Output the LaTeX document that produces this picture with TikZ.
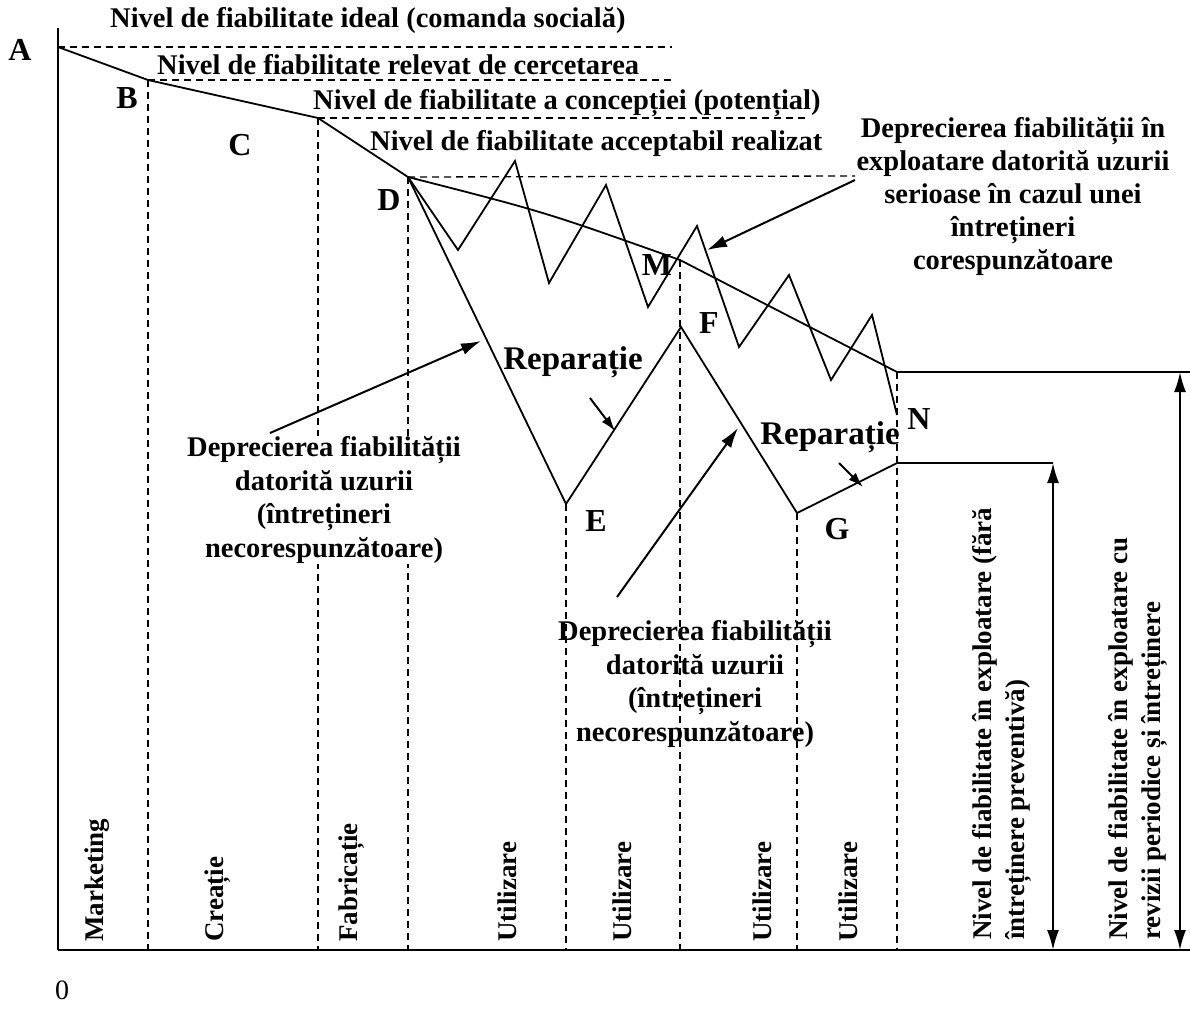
\documentclass[tikz,border=0pt]{standalone}
\usepackage{fontspec}
\setmainfont{Liberation Serif}
\usetikzlibrary{arrows.meta}

\begin{document}
\begin{tikzpicture}[x=1pt,y=-1pt,
    curve/.style={line width=1.8pt},
    baseline axis/.style={line width=2.6pt},
    guide/.style={line width=1.3pt,dash pattern=on 7pt off 5pt},
    pointer/.style={line width=2pt,-{Latex[length=20pt,width=12pt]}},
    nudge/.style={line width=2pt,-{Latex[length=15pt,width=10pt]}},
    span/.style={line width=2pt,{Latex[length=20pt,width=12pt]}-{Latex[length=20pt,width=12pt]}},
    letter/.style={font=\fontsize{32}{36}\selectfont\bfseries,inner sep=0pt},
    level/.style={font=\fontsize{28.5}{33.5}\selectfont\bfseries,anchor=west,inner sep=0pt},
    note/.style={font=\fontsize{28.5}{33}\selectfont\bfseries,align=center,inner sep=2pt},
    wear/.style={font=\fontsize{28.5}{33.5}\selectfont\bfseries,align=center,inner sep=1pt},
    repair/.style={font=\fontsize{33}{36}\selectfont\bfseries,inner sep=0pt},
    phase/.style={font=\fontsize{27}{30}\selectfont\bfseries,rotate=90,anchor=west,inner sep=0pt},
    sideband/.style={font=\fontsize{27}{33}\selectfont\bfseries,rotate=90,anchor=west,align=left,inner sep=0pt}]
    \useasboundingbox (0,0) rectangle (1190,1026);

    % points of the diagram
    \coordinate (A) at (58,47);
    \coordinate (B) at (148,80);
    \coordinate (C) at (318,118);
    \coordinate (D) at (408,177);
    \coordinate (M) at (680,260);
    \coordinate (F) at (681,327);
    \coordinate (E) at (566,504);
    \coordinate (G) at (797,513);
    \coordinate (Nh) at (897,372);
    \coordinate (Nz) at (897,415);
    \coordinate (Gr) at (897,463);
    \coordinate (O) at (58,950);
    \coordinate (Ytop) at (58,28);
    \coordinate (Xend) at (1190,950);
    \coordinate (Ae) at (672,47);
    \coordinate (Be) at (672,80);
    \coordinate (Ce) at (808,118);
    \coordinate (De) at (855,176);
    \coordinate (Lt) at (1053,463);
    \coordinate (Lb) at (1053,950);
    \coordinate (Rt) at (1180,372);
    \coordinate (Rb) at (1180,950);
    \coordinate (Redge) at (1190,372);

    % axes and guides
    \draw[curve] (Ytop) -- (O);
    \draw[baseline axis] (O) -- (Xend);
    \draw[guide] (A) -- (Ae);
    \draw[guide] (B) -- (Be);
    \draw[guide] (C) -- (Ce);
    \draw[guide] (D) -- (De);
    \foreach \p in {B,C,D,E,M,G,Nh}{
        \draw[guide] (\p) -- (\p |- O);
    }

    % reliability curves
    \draw[curve] (A) -- (B) -- (C) -- (D) .. controls (545,212) .. (M) -- (Nh) -- (Redge);
    \foreach \x/\y [count=\i] in {458/250,515/161,549/283,606/185,648/307,697/226,739/347,789/275,831/380,872/315}{
        \coordinate (z\i) at (\x,\y);
    }
    \draw[curve] (D) \foreach \i in {1,...,10}{ -- (z\i)} -- (Nz);
    \draw[curve] (D) -- (E) -- (F) -- (G) -- (Gr) -- (Lt);
    \draw[span] (Lb) -- (Lt);
    \draw[span] (Rb) -- (Rt);

    % letters
    \node[letter] (lA) at (20,50) {A};
    \node[letter] (lB) at (127,98) {B};
    \node[letter] (lC) at (240,145) {C};
    \node[letter] (lD) at (389,200) {D};
    \node[letter] (lM) at (657,265) {M};
    \node[letter] (lF) at (709,323) {F};
    \node[letter] (lE) at (596,521) {E};
    \node[letter] (lG) at (837,529) {G};
    \node[letter] (lN) at (919,419) {N};
    \node[font=\fontsize{28}{30}\selectfont,inner sep=0pt] (zero) at (62,990) {0};

    % levels
    \node[level] (ideal) at (110,20) {Nivel de fiabilitate ideal (comanda socială)};
    \node[level] (research) at (157,65) {Nivel de fiabilitate relevat de cercetarea};
    \node[level] (concept) at (313,103) {Nivel de fiabilitate a concepției (potențial)};
    \node[level] (accept) at (370,143) {Nivel de fiabilitate acceptabil realizat};

    % notes and arrows
    \node[note] (wearR) at (1013,196) {Deprecierea fiabilității în\\exploatare datorită uzurii\\serioase în cazul unei\\întrețineri\\corespunzătoare};
    \node[wear,fill=white] (wearL) at (324,500) {Deprecierea fiabilității\\datorită uzurii\\(întrețineri\\necorespunzătoare)};
    \node[wear] (wearM) at (695,684) {Deprecierea fiabilității\\datorită uzurii\\(întrețineri\\necorespunzătoare)};
    \node[repair] (rep1) at (573,362) {Reparație};
    \node[repair] (rep2) at (830,437) {Reparație};

    \coordinate (p1s) at (270,433);
    \coordinate (p1e) at (481,341);
    \coordinate (p2s) at (617,597);
    \coordinate (p2e) at (738,428);
    \coordinate (p3s) at (855,180);
    \coordinate (p3e) at (707,250);
    \coordinate (r1s) at (590,398);
    \coordinate (r1e) at (615,431);
    \coordinate (r2s) at (839,463);
    \coordinate (r2e) at (863,487);
    \draw[pointer] (p1s) -- (p1e);
    \draw[pointer] (p2s) -- (p2e);
    \draw[pointer] (p3s) -- (p3e);
    \draw[nudge] (r1s) -- (r1e);
    \draw[nudge] (r2s) -- (r2e);

    % phases
    \node[phase] (ph1) at (97,942) {Marketing};
    \node[phase] (ph2) at (218,942) {Creație};
    \node[phase] (ph3) at (352,942) {Fabricație};
    \foreach \x [count=\i] in {507,622,762,848}{
        \node[phase] (use\i) at (\x,942) {Utilizare};
    }
    \node[sideband] (noprev) at (1002,940) {Nivel de fiabilitate în exploatare (fără\\întreținere preventivă)};
    \node[sideband] (withrev) at (1138,940) {Nivel de fiabilitate în exploatare cu\\revizii periodice și întreținere};
\end{tikzpicture}
\end{document}
